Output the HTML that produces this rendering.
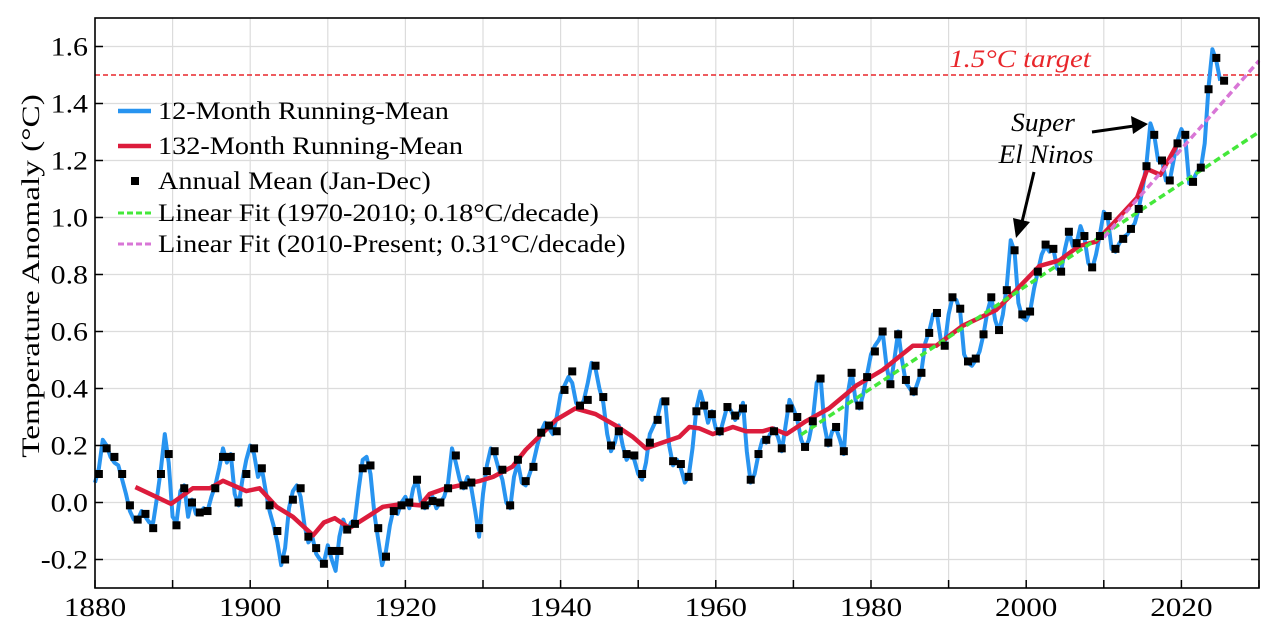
<!DOCTYPE html>
<html><head><meta charset="utf-8">
<style>
html,body{margin:0;padding:0;background:#fff;}
svg{display:block;font-family:"Liberation Serif",serif;}
</style></head>
<body>
<svg id="chart" width="1280" height="640" viewBox="0 0 1280 640" xmlns="http://www.w3.org/2000/svg"></svg>
<script>
// ---- data ----
const annualStart = 1880;
const annualMean = [0.10,0.19,0.16,0.10,-0.01,-0.06,-0.04,-0.09,0.10,0.17,
-0.08,0.05,0.00,-0.035,-0.03,0.05,0.16,0.16,0.00,0.10,
0.19,0.12,-0.01,-0.10,-0.20,0.01,0.05,-0.12,-0.16,-0.215,
-0.17,-0.17,-0.095,-0.075,0.12,0.13,-0.09,-0.19,-0.03,-0.01,
0.00,0.08,-0.01,0.005,0.00,0.05,0.165,0.06,0.07,-0.09,
0.11,0.18,0.115,-0.01,0.15,0.075,0.125,0.245,0.27,0.25,
0.395,0.46,0.34,0.36,0.48,0.37,0.20,0.25,0.17,0.165,
0.10,0.21,0.29,0.355,0.145,0.135,0.09,0.32,0.34,0.31,
0.25,0.335,0.305,0.33,0.08,0.17,0.22,0.25,0.19,0.33,
0.30,0.195,0.285,0.435,0.21,0.265,0.18,0.455,0.34,0.44,
0.53,0.60,0.415,0.59,0.43,0.39,0.455,0.595,0.665,0.55,
0.72,0.68,0.495,0.505,0.59,0.72,0.605,0.745,0.885,0.66,
0.67,0.81,0.905,0.89,0.81,0.95,0.91,0.935,0.825,0.935,
1.005,0.89,0.925,0.96,1.03,1.18,1.29,1.20,1.13,1.26,
1.29,1.125,1.175,1.45,1.56,1.48];
const blueStart = 1880.0; // values every half year
const blueMean = [0.07,0.12,0.22,0.20,0.16,0.14,0.13,0.08,0.03,-0.03,-0.06,-0.06,-0.03,-0.05,-0.07,-0.07,0.02,0.12,0.24,0.14,
-0.05,-0.07,0.04,0.06,-0.05,0.01,-0.04,-0.04,-0.02,-0.03,0.02,0.06,0.12,0.19,0.14,0.17,0.03,-0.01,0.08,0.15,
0.20,0.17,0.09,0.12,0.04,-0.03,-0.08,-0.14,-0.22,-0.16,-0.02,0.04,0.06,0.02,-0.08,-0.14,-0.12,-0.18,-0.20,-0.21,
-0.15,-0.20,-0.24,-0.12,-0.06,-0.10,-0.07,-0.06,0.05,0.15,0.16,0.10,-0.04,-0.13,-0.22,-0.17,-0.08,-0.02,-0.04,0.00,
0.02,-0.02,0.05,0.08,0.00,-0.02,-0.01,0.02,-0.02,0.00,0.02,0.07,0.19,0.14,0.08,0.05,0.09,0.05,-0.03,-0.12,
0.03,0.13,0.19,0.17,0.12,0.08,0.00,-0.02,0.09,0.14,0.07,0.06,0.10,0.14,0.20,0.25,0.28,0.26,0.24,0.30,
0.38,0.41,0.44,0.42,0.35,0.33,0.36,0.42,0.49,0.47,0.40,0.35,0.24,0.18,0.21,0.27,0.20,0.15,0.17,0.15,
0.10,0.08,0.14,0.24,0.27,0.30,0.36,0.35,0.20,0.13,0.15,0.12,0.07,0.09,0.19,0.33,0.39,0.34,0.28,0.32,
0.26,0.24,0.29,0.34,0.32,0.29,0.31,0.35,0.18,0.07,0.10,0.17,0.22,0.21,0.24,0.26,0.23,0.18,0.27,0.36,
0.33,0.29,0.22,0.19,0.22,0.29,0.42,0.44,0.27,0.20,0.25,0.26,0.22,0.17,0.38,0.46,0.36,0.33,0.38,0.45,
0.52,0.55,0.57,0.60,0.48,0.41,0.50,0.60,0.50,0.42,0.40,0.38,0.42,0.46,0.56,0.60,0.66,0.66,0.57,0.55,
0.66,0.72,0.71,0.67,0.52,0.49,0.48,0.50,0.53,0.59,0.67,0.72,0.64,0.60,0.66,0.76,0.92,0.88,0.70,0.65,
0.64,0.67,0.75,0.81,0.87,0.90,0.88,0.89,0.82,0.81,0.89,0.95,0.90,0.91,0.97,0.93,0.84,0.82,0.87,0.94,
1.02,1.00,0.89,0.88,0.91,0.93,0.94,0.96,0.98,1.03,1.10,1.19,1.33,1.29,1.20,1.20,1.13,1.13,1.20,1.27,
1.31,1.28,1.12,1.13,1.16,1.17,1.26,1.46,1.59,1.55,1.48];
const redYears = [1885.2,1887.5,1889.8,1892.6,1894.8,1896.5,1899.5,1901.2,1903.4,1905.5,1908.1,1909.5,1910.9,1912.8,1915.4,1917.1,1919.7,1921.9,1923.1,1925.2,1927,1929.5,1931.3,1933.8,1935.5,1937.2,1939.4,1941.9,1944.5,1947.1,1949.3,1951,1953.1,1955.3,1956.6,1957.9,1959.6,1962.2,1963.9,1966,1967.3,1969.1,1971.6,1974.6,1978.1,1981.5,1985.4,1988.4,1991.8,1996.1,1998.7,2001.7,2004.3,2006.8,2009,2011.4,2014.3,2015.6,2017.3,2019.3];
const redMean = [0.054,0.025,-0.005,0.05,0.05,0.076,0.04,0.05,-0.015,-0.05,-0.115,-0.07,-0.055,-0.09,-0.045,-0.015,-0.005,-0.01,0.03,0.05,0.06,0.075,0.09,0.126,0.185,0.23,0.29,0.33,0.31,0.27,0.23,0.19,0.21,0.23,0.265,0.26,0.24,0.265,0.25,0.25,0.26,0.24,0.285,0.33,0.41,0.465,0.55,0.55,0.62,0.675,0.745,0.83,0.85,0.90,0.915,0.985,1.07,1.17,1.15,1.25];
const fitStartYears = [1971, 2010];
const fitEndYears = [2030, 2030];
const fitSlopes = [0.018, 0.031];
const fitEndValues = [1.30, 1.55];
const targetValue = 1.5;
const xTicks = [1880,1900,1920,1940,1960,1980,2000,2020];
const yTicks = [-0.2,0.0,0.2,0.4,0.6,0.8,1.0,1.2,1.4,1.6];
const yTickLabels = ["-0.2","0.0","0.2","0.4","0.6","0.8","1.0","1.2","1.4","1.6"];

// ---- axes ----
const L=95, R=1259, T=18, B=588, X0=1880, X1=2030, Y0=-0.3, Y1=1.7;
const sx = v => L + (v-X0)/(X1-X0)*(R-L);
const sy = v => B - (v-Y0)/(Y1-Y0)*(B-T);
const svg = document.getElementById('chart');
const NS='http://www.w3.org/2000/svg';
function mk(tag, attrs, parent){const e=document.createElementNS(NS,tag);for(const k in attrs)e.setAttribute(k,attrs[k]);(parent||svg).appendChild(e);return e;}
function txt(x,y,s,size,stretch,anchor,parent,extra){
  const a={x:0,y:0,'font-size':size,'text-anchor':anchor||'start',transform:'translate('+x+','+y+') scale('+stretch+',1)'};
  if(extra)for(const k in extra)a[k]=extra[k];
  const t=mk('text',a,parent);t.textContent=s;return t;
}

// grid
const grid = mk('g',{});


for(let y=1890;y<2030;y+=10){mk('line',{x1:sx(y),x2:sx(y),y1:T,y2:B,stroke:'#dcdcdc','stroke-width':1.2},grid);}
for(const v of yTicks){mk('line',{x1:L,x2:R,y1:sy(v),y2:sy(v),stroke:'#dcdcdc','stroke-width':1.2},grid);}

// target line
const tl = mk('line',{x1:L,x2:R,y1:sy(targetValue),y2:sy(targetValue),stroke:'#e8262b','stroke-width':1.5,'stroke-dasharray':'5,3'});


const tt = txt(1020,sy(targetValue)-8,'1.5°C target',25,1.15,'middle',svg,{'font-style':'italic',fill:'#e8262b'});



// blue line
let d='';
blueMean.forEach((v,i)=>{d+=(i?'L':'M')+sx(blueStart+i*0.5).toFixed(1)+','+sy(v).toFixed(1);});
const blue = mk('path',{d:d,fill:'none',stroke:'#2894f0','stroke-width':4,'stroke-linejoin':'round'});



// red line
d='';
redMean.forEach((v,i)=>{d+=(i?'L':'M')+sx(redYears[i]).toFixed(1)+','+sy(v).toFixed(1);});
const red = mk('path',{d:d,fill:'none',stroke:'#dc1c3c','stroke-width':4.5,'stroke-linejoin':'round'});



// fits
const fitColors=['#44e83a','#d876d6'];
const fitNames=['linear-fit-1970-2010','linear-fit-2010-present'];
fitSlopes.forEach((s,i)=>{
  const v1=fitEndValues[i], v0=v1-s*(fitEndYears[i]-fitStartYears[i]);
  const f=mk('line',{x1:sx(fitStartYears[i]),y1:sy(v0),x2:sx(fitEndYears[i]),y2:sy(v1),stroke:fitColors[i],'stroke-width':3.5,'stroke-dasharray':'7,4'});
  
  
});

// annual squares
const sq = mk('g',{});


annualMean.forEach((v,i)=>{
  const r=mk('rect',{x:sx(annualStart+i+0.5)-4,y:sy(v)-4,width:8,height:8,fill:'#000'},sq);
  
  
});

// frame
const fr=mk('rect',{x:L,y:T,width:R-L,height:B-T,fill:'none',stroke:'#000','stroke-width':1.6});



// ticks & labels
const xa=mk('g',{});


for(let y=1880;y<=2030;y+=10){mk('line',{x1:sx(y),x2:sx(y),y1:B,y2:B-8,stroke:'#000','stroke-width':1.5},xa);}
xTicks.forEach(y=>{const t=txt(sx(y),616,String(y),26,1.2,'middle',xa);
 
 });
const ya=mk('g',{});


yTicks.forEach((v,i)=>{
  mk('line',{x1:L,x2:L+8,y1:sy(v),y2:sy(v),stroke:'#000','stroke-width':1.5},ya);
  mk('line',{x1:R,x2:R-8,y1:sy(v),y2:sy(v),stroke:'#000','stroke-width':1.5},ya);
  const t=txt(88,sy(v)+9,yTickLabels[i],26,1.15,'end',ya);
  
  
});
const yt=mk('text',{x:0,y:0,'text-anchor':'middle','font-size':25,transform:'translate(39,276) rotate(-90) scale(1.33,1)'});
yt.textContent='Temperature Anomaly (°C)';



// legend
const legItems=[['12-Month Running-Mean','line','#2894f0'],['132-Month Running-Mean','line','#dc1c3c'],['Annual Mean (Jan-Dec)','sq','#000'],['Linear Fit (1970-2010; 0.18°C/decade)','dash','#44e83a'],['Linear Fit (2010-Present; 0.31°C/decade)','dash','#d876d6']];
const legYs=[111,146,181,213,244];
const lg=mk('g',{});


legItems.forEach((it,i)=>{
  const y=legYs[i];
  const g=mk('g',{},lg);
  
  
  if(it[1]==='line')mk('line',{x1:118,x2:151,y1:y,y2:y,stroke:it[2],'stroke-width':4.5},g);
  else if(it[1]==='sq')mk('rect',{x:131,y:y-4,width:8,height:8,fill:'#000'},g);
  else mk('line',{x1:118,x2:151,y1:y,y2:y,stroke:it[2],'stroke-width':3,'stroke-dasharray':'6,3'},g);
  txt(158,y+8,it[0],25,1.13,'start',g);
});

// annotation
const an=mk('g',{});


txt(1043,131,'Super',26,1.05,'middle',an,{'font-style':'italic'});
txt(1046,163,'El Ninos',26,1.05,'middle',an,{'font-style':'italic'});
mk('line',{x1:1034,y1:172,x2:1022,y2:222,stroke:'#000','stroke-width':3},an);
mk('polygon',{points:'1016,238 1013,218 1030,222',fill:'#000'},an);
mk('line',{x1:1092,y1:132,x2:1134,y2:126,stroke:'#000','stroke-width':3},an);
mk('polygon',{points:'1148,124 1131,116 1133,134',fill:'#000'},an);
</script>
</body></html>
